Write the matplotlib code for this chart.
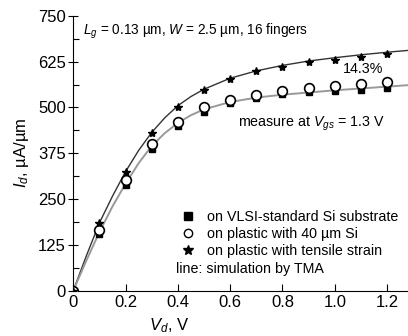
import numpy as np
import matplotlib
matplotlib.use("Agg")
import matplotlib.pyplot as plt
from matplotlib.ticker import MultipleLocator
from matplotlib.lines import Line2D

plt.rcParams['font.family'] = ['Liberation Sans', 'DejaVu Sans']
plt.rcParams['mathtext.fontset'] = 'custom'
plt.rcParams['mathtext.it'] = 'Liberation Sans:italic'
plt.rcParams['mathtext.rm'] = 'Liberation Sans'

# measured points
vd = [0, 0.1, 0.2, 0.3, 0.4, 0.5, 0.6, 0.7, 0.8, 0.9, 1.0, 1.1, 1.2]
id_vlsi = [0, 155, 287, 386, 449, 488, 511, 527, 536, 541, 545, 548, 552]
id_plastic = [0, 164, 301, 399, 461, 500, 520, 534, 545, 552, 558, 564, 570]
id_strain = [0, 185, 324, 430, 502, 549, 577, 599, 611, 623, 630, 637, 645]

# simulation lines
vd_sim = [0, 0.05, 0.1, 0.15, 0.2, 0.25, 0.3, 0.35, 0.4, 0.45, 0.5, 0.6, 0.7, 0.8, 0.9, 1.0, 1.1, 1.2, 1.28]
sim_strain = [0, 95, 185, 258, 325, 383, 432, 472, 505, 530, 550, 580, 600, 615, 627, 636, 644, 651, 656]
sim_plain = [0, 82, 160, 230, 292, 348, 395, 430, 458, 479, 495, 515, 527, 535, 541, 547, 552, 557, 561]

fig = plt.figure(figsize=(4.08, 3.36), dpi=100)
ax = fig.add_axes([0.1797, 0.1354, 0.8203, 0.817])

ax.plot(vd_sim, sim_strain, color='#333333', lw=1.0, zorder=2)
ax.plot(vd_sim, sim_plain, color='#999999', lw=1.4, zorder=2)

ax.plot(vd, id_vlsi, ls='none', marker='s', ms=5, color='black', zorder=3)
ax.plot(vd, id_plastic, ls='none', marker='o', ms=7, mfc='white', mec='black', mew=1.2, zorder=4)
ax.plot(vd, id_strain, ls='none', marker='*', ms=6, color='black', zorder=5)

ax.set_xlim(0, 1.28)
ax.set_ylim(0, 750)
ax.set_xticks([0, 0.2, 0.4, 0.6, 0.8, 1.0, 1.2])
ax.set_xticklabels(['0', '0.2', '0.4', '0.6', '0.8', '1.0', '1.2'])
ax.yaxis.set_major_locator(MultipleLocator(125))
ax.yaxis.set_minor_locator(MultipleLocator(62.5))
ax.tick_params(axis='x', which='major', direction='in', length=5, width=0.8, labelsize=12, pad=3)
ax.tick_params(axis='y', which='major', direction='inout', length=7, width=0.8, labelsize=12, pad=2)
ax.tick_params(axis='y', which='minor', direction='in', length=4, width=0.8)
for s in ['top', 'right']:
    ax.spines[s].set_visible(False)

ax.set_xlabel('$V_d$, V', fontsize=12, labelpad=1)
ax.xaxis.set_label_coords(0.286, -0.095)
ax.set_ylabel('$I_d$, µA/µm', fontsize=12, labelpad=5)

ax.text(0.028, 0.931, '$L_g$ = 0.13 µm, $W$ = 2.5 µm, 16 fingers', fontsize=9.8,
        va='baseline', transform=ax.transAxes)
ax.text(0.806, 0.791, '14.3%', fontsize=10.3, va='baseline', transform=ax.transAxes)
ax.text(0.492, 0.597, 'measure at $V_{gs}$ = 1.3 V', fontsize=10.3, va='baseline',
        transform=ax.transAxes)

handles = [
    Line2D([], [], ls='none', marker='s', ms=6, color='black'),
    Line2D([], [], ls='none', marker='o', ms=6, mfc='white', mec='black'),
    Line2D([], [], ls='none', marker='*', ms=7, color='black'),
]
labels = ['on VLSI-standard Si substrate', 'on plastic with 40 µm Si', 'on plastic with tensile strain']
ax.legend(handles, labels, loc='upper left', bbox_to_anchor=(0.322, 0.293), frameon=False,
          fontsize=10.3, handlelength=1.0, handletextpad=0.8, labelspacing=0.2, borderpad=0,
          borderaxespad=0)
ax.text(0.307, 0.065, 'line: simulation by TMA', fontsize=10.3, va='baseline',
        transform=ax.transAxes)

fig.savefig('out.png', dpi=100)
